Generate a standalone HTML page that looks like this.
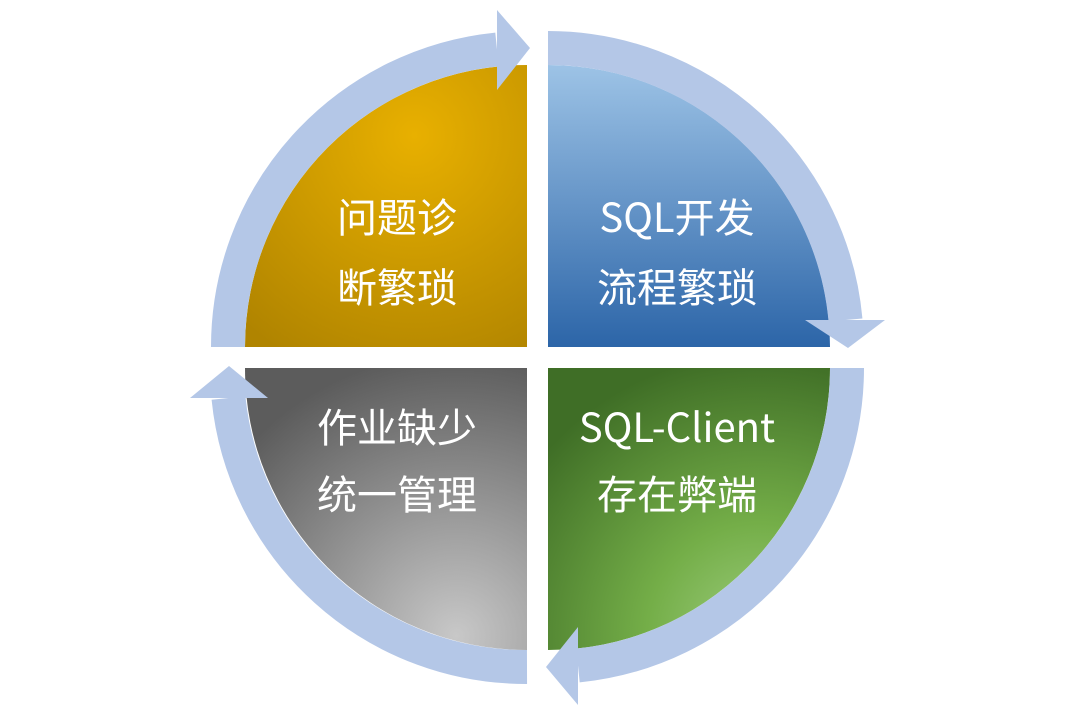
<!DOCTYPE html>
<html><head><meta charset="utf-8"><style>
html,body{margin:0;padding:0;background:#fff;}
svg{display:block}
text{font-family:"Noto Sans CJK SC",sans-serif;fill:#fff;font-size:40px;text-anchor:middle}
</style></head><body>
<svg width="1080" height="720" viewBox="0 0 1080 720">
<defs>
<radialGradient id="g1" cx="0.6" cy="0.25" r="0.9"><stop offset="0" stop-color="#e8b000"/><stop offset="1" stop-color="#b08400"/></radialGradient>
<linearGradient id="g2" x1="0" y1="0" x2="0" y2="1"><stop offset="0" stop-color="#9dc3e6"/><stop offset="1" stop-color="#2c65a8"/></linearGradient>
<radialGradient id="g3" cx="0.75" cy="0.95" r="1"><stop offset="0" stop-color="#9ccc7c"/><stop offset="0.4" stop-color="#74ae48"/><stop offset="1" stop-color="#3f6e26"/></radialGradient>
<radialGradient id="g4" cx="0.75" cy="0.95" r="1"><stop offset="0" stop-color="#c8c8c8"/><stop offset="1" stop-color="#5c5c5c"/></radialGradient>
</defs>
<path d="M527,347 L245,347 A282,282 0 0 1 527,65 Z" fill="url(#g1)"/>
<path d="M548,347 L548,65 A282,282 0 0 1 830,347 Z" fill="url(#g2)"/>
<path d="M548,368 L830,368 A282,282 0 0 1 548,650 Z" fill="url(#g3)"/>
<path d="M527,368 L527,650 A282,282 0 0 1 245,368 Z" fill="url(#g4)"/>
<g fill="none" stroke="#b4c7e7" stroke-width="34">
<path d="M228,347 A299,299 0 0 1 497,49.5"/>
<path d="M548,48 A299,299 0 0 1 845.5,320"/>
<path d="M847,368 A299,299 0 0 1 578,665.5"/>
<path d="M527,667 A299,299 0 0 1 228.5,398"/>
</g>
<g fill="#b4c7e7">
<polygon points="497,10 530,48 497,90"/>
<polygon points="805,320 885,320 848,348"/>
<polygon points="578,627 578,705 546,667"/>
<polygon points="190,398 268,398 229,366"/>
</g>
<text x="397" y="232">问题诊</text>
<text x="397" y="302">断繁琐</text>
<text x="677" y="232">SQL开发</text>
<text x="677" y="302">流程繁琐</text>
<text x="397" y="442">作业缺少</text>
<text x="397" y="509">统一管理</text>
<text x="677" y="442">SQL-Client</text>
<text x="677" y="509">存在弊端</text>
</svg>
</body></html>
